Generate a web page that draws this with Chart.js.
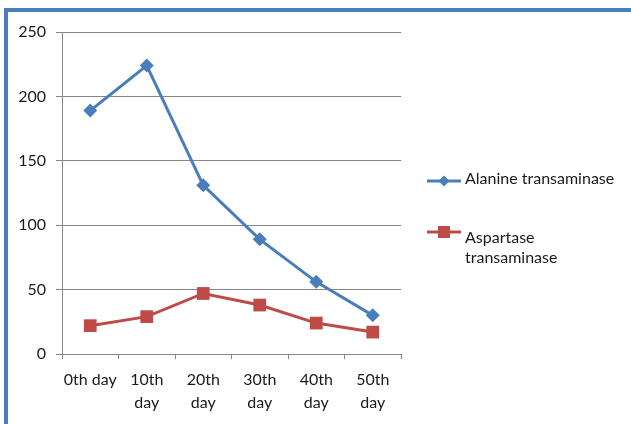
<!DOCTYPE html>
<html>
<head>
<meta charset="utf-8">
<script src="https://cdn.jsdelivr.net/npm/chart.js@4/dist/chart.umd.min.js"></script>
<style>
  html, body { margin: 0; padding: 0; background: #ffffff; }
  #wrap { position: relative; width: 631px; height: 424px; }
</style>
</head>
<body>
<div id="wrap"><canvas id="c" width="631" height="424"></canvas></div>
<script>
// Sampling days (x-axis tick labels, wrapped the way they are shown)
const dayLabels = [['0th day'], ['10th', 'day'], ['20th', 'day'], ['30th', 'day'], ['40th', 'day'], ['50th', 'day']];

// Enzyme levels per sampling day
const alanine = [189, 224, 131, 89, 56, 30];
const aspartase = [22, 29, 47, 38, 24, 17];

// Series names (legend)
const seriesNames = [['Alanine transaminase'], ['Aspartase', 'transaminase']];

// Value axis ticks
const yTicks = [0, 50, 100, 150, 200, 250];

const FONT = 'Lato, "Open Sans", sans-serif';
const TEXT = '#1a1a1a';
const GRID = '#868686';
const BLUE = '#4a7ebb';
const RED = '#be4b48';

// Outer frame: heavy blue rule along the top and left edges
const framePlugin = {
  id: 'frame',
  beforeDraw(chart) {
    const ctx = chart.ctx;
    ctx.save();
    ctx.fillStyle = '#ffffff';
    ctx.fillRect(0, 0, chart.width, chart.height);
    ctx.fillStyle = BLUE;
    ctx.fillRect(4, 8, chart.width - 4, 4);
    ctx.fillRect(4, 8, 4, chart.height - 8);
    ctx.restore();
  }
};

// Legend at the right, with wrapped series names
const sideLegend = {
  id: 'sideLegend',
  afterDraw(chart) {
    const ctx = chart.ctx;
    const rows = [
      { line: 181, base: 184 },
      { line: 232, base: 243 }
    ];
    ctx.save();
    chart.data.datasets.forEach((ds, i) => {
      const r = rows[i];
      ctx.strokeStyle = ds.borderColor;
      ctx.lineWidth = 3;
      ctx.beginPath();
      ctx.moveTo(427, r.line);
      ctx.lineTo(461, r.line);
      ctx.stroke();
      ctx.fillStyle = ds.backgroundColor;
      ctx.beginPath();
      if (ds.pointStyle === 'rectRot') {
        const s = 5.5;
        ctx.moveTo(444 - s, r.line);
        ctx.lineTo(444, r.line - s);
        ctx.lineTo(444 + s, r.line);
        ctx.lineTo(444, r.line + s);
        ctx.closePath();
      } else {
        ctx.rect(444 - 6, r.line - 6, 12, 12);
      }
      ctx.fill();
      ctx.fillStyle = TEXT;
      ctx.font = '16px ' + FONT;
      ctx.textBaseline = 'alphabetic';
      ctx.textAlign = 'left';
      ds.legendLines.forEach((t, k) => ctx.fillText(t, 465, r.base + k * 20));
    });
    ctx.restore();
  }
};

new Chart(document.getElementById('c'), {
  type: 'line',
  data: {
    labels: dayLabels,
    datasets: [
      {
        label: seriesNames[0].join(' '),
        legendLines: seriesNames[0],
        data: alanine,
        borderColor: BLUE,
        backgroundColor: BLUE,
        borderWidth: 3,
        pointStyle: 'rectRot',
        pointRadius: 7,
        pointHoverRadius: 7,
        pointBorderWidth: 0,
        tension: 0
      },
      {
        label: seriesNames[1].join(' '),
        legendLines: seriesNames[1],
        data: aspartase,
        borderColor: RED,
        backgroundColor: RED,
        borderWidth: 3,
        pointStyle: 'rect',
        pointRadius: 9,
        pointHoverRadius: 9,
        pointBorderWidth: 0,
        tension: 0
      }
    ]
  },
  options: {
    responsive: false,
    animation: false,
    events: [],
    layout: { padding: { left: 0, top: 32, right: 230, bottom: 0 } },
    plugins: {
      legend: { display: false },
      tooltip: { enabled: false }
    },
    scales: {
      x: {
        offset: true,
        afterFit(s) { s.height = 70; },
        grid: {
          offset: true,
          drawOnChartArea: false,
          drawTicks: true,
          tickLength: 5,
          color: GRID
        },
        border: { display: true, color: GRID, width: 1 },
        ticks: {
          color: TEXT,
          font: { family: FONT, size: 16, lineHeight: 1.4 },
          padding: 10,
          maxRotation: 0,
          autoSkip: false
        }
      },
      y: {
        min: yTicks[0],
        max: yTicks[yTicks.length - 1],
        afterFit(s) { s.width = 62; },
        afterBuildTicks(s) { s.ticks = yTicks.map(v => ({ value: v })); },
        grid: { color: GRID, tickLength: 6, lineWidth: 1 },
        border: { display: true, color: GRID, width: 1 },
        ticks: {
          color: TEXT,
          font: { family: FONT, size: 16 },
          padding: 10
        }
      }
    }
  },
  plugins: [framePlugin, sideLegend]
});
</script>
</body>
</html>
